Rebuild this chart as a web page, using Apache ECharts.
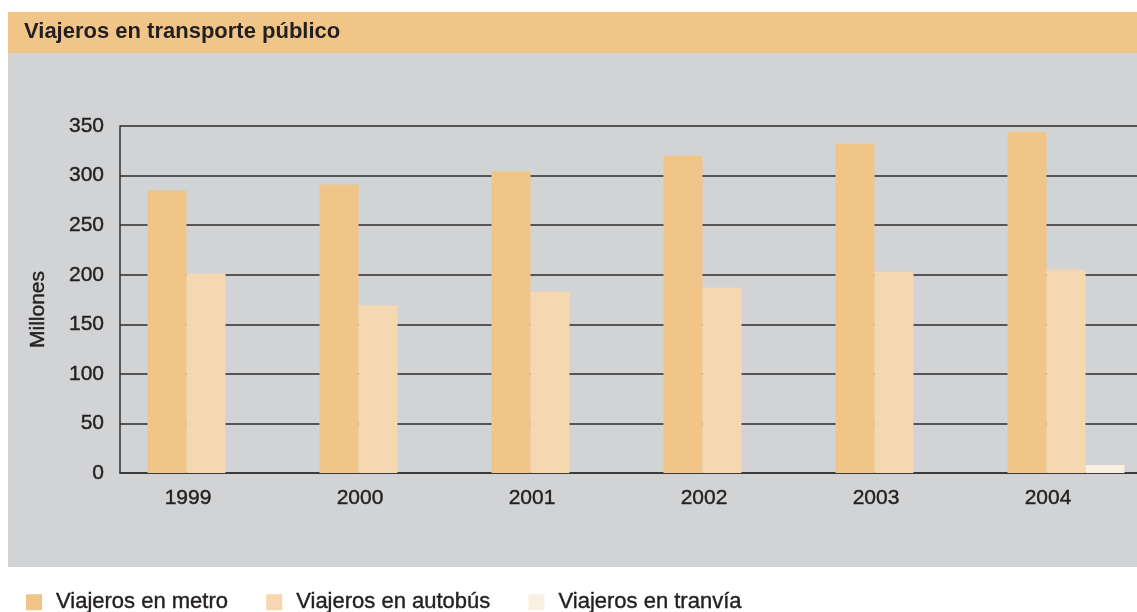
<!DOCTYPE html>
<html>
<head>
<meta charset="utf-8">
<script src="https://cdn.jsdelivr.net/npm/echarts@6/dist/echarts.min.js"></script>
<style>
  html, body { margin: 0; padding: 0; background: #ffffff; }
  #chart { width: 1137px; height: 612px; }
</style>
</head>
<body>
<div id="chart"></div>
<script type="text/javascript">

var years = ['1999', '2000', '2001', '2002', '2003', '2004'];
var metro = [285, 291, 304, 320, 332, 344];
var autobus = [201, 169, 183, 187, 203, 205];
var tranvia = [0, 0, 0, 0, 0, 8];
var yTicks = [0, 50, 100, 150, 200, 250, 300, 350];

var FONT = '"Liberation Sans", Arial, Helvetica, sans-serif';
var INK = '#231f20';

var chart = echarts.init(document.getElementById('chart'));

function barSeries(name, data, color) {
    return {
        name: name,
        type: 'bar',
        data: data,
        barWidth: 39,
        barGap: '0%',
        itemStyle: { color: color },
        emphasis: { disabled: true }
    };
}

// a thin outline on the text, the original lettering is a bit heavier
var heavy = { textBorderColor: INK, textBorderWidth: 0.4 };

option = {
    backgroundColor: '#ffffff',
    animation: false,
    textStyle: { fontFamily: FONT, color: INK },
    graphic: [
        {
            type: 'rect', z: -10, silent: true,
            shape: { x: 8, y: 12, width: 1140, height: 41 },
            style: { fill: '#f0c587' }
        },
        {
            type: 'rect', z: -10, silent: true,
            shape: { x: 8, y: 53, width: 1140, height: 514 },
            style: { fill: '#d2d3d5' }
        }
    ],
    title: {
        text: 'Viajeros en transporte público',
        left: 24,
        top: 21,
        padding: 0,
        textStyle: { fontFamily: FONT, fontSize: 22, fontWeight: 'bold', color: INK }
    },
    legend: {
        left: 26,
        top: 591,
        padding: 0,
        icon: 'rect',
        itemWidth: 16,
        itemHeight: 16,
        itemGap: 38,
        selectedMode: false,
        textStyle: Object.assign({ fontFamily: FONT, fontSize: 22, color: INK, padding: [0, 0, 0, 9] }, heavy),
        data: ['Viajeros en metro', 'Viajeros en autobús', 'Viajeros en tranvía']
    },
    grid: {
        left: 120,
        top: 126,
        right: -15,
        bottom: 139,
        outerBoundsMode: 'none',
        containLabel: false
    },
    xAxis: {
        type: 'category',
        data: years,
        axisLine: { show: true, lineStyle: { color: '#333333', width: 1.5 } },
        axisTick: { show: false },
        axisLabel: Object.assign({
            fontFamily: FONT,
            fontSize: 21,
            color: INK,
            margin: 15,
            padding: [0, 36, 0, 0]
        }, heavy)
    },
    yAxis: {
        type: 'value',
        min: yTicks[0],
        max: yTicks[yTicks.length - 1],
        interval: 50,
        name: 'Millones',
        nameLocation: 'middle',
        nameGap: 71,
        nameRotate: 90,
        nameTextStyle: Object.assign({ fontFamily: FONT, fontSize: 21, color: INK, padding: [0, 20, 0, 0] }, heavy),
        axisLine: { show: true, lineStyle: { color: '#333333', width: 1.5 } },
        axisTick: { show: false },
        axisLabel: Object.assign({ fontFamily: FONT, fontSize: 21, color: INK, margin: 16 }, heavy),
        splitLine: { show: true, lineStyle: { color: '#2b2b2b', width: 1.5 } }
    },
    series: [
        barSeries('Viajeros en metro', metro, '#f0c587'),
        barSeries('Viajeros en autobús', autobus, '#f5d8b0'),
        barSeries('Viajeros en tranvía', tranvia, '#faf0e2')
    ]
};

chart.setOption(option);

</script>
</body>
</html>
